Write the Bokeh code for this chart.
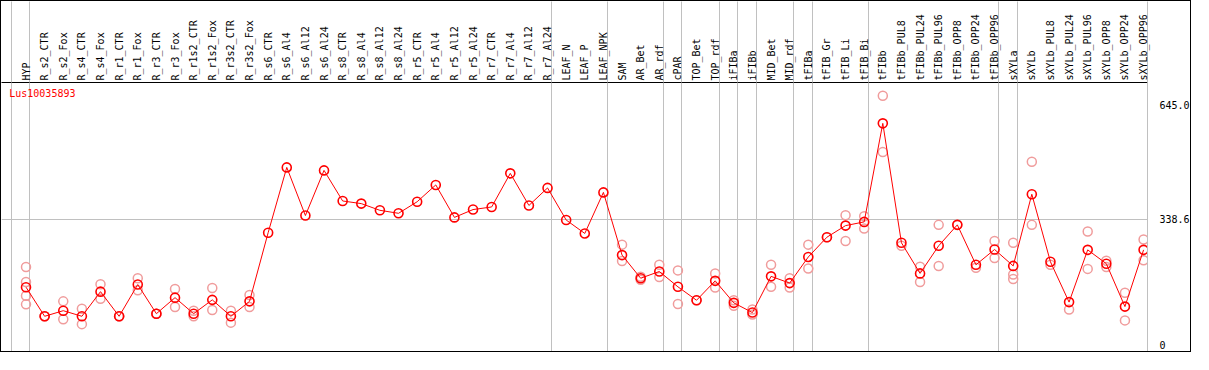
import math
from bokeh.plotting import figure
from bokeh.models import FixedTicker, Range1d, Label, ColumnDataSource
from bokeh.embed import file_html
from bokeh.resources import INLINE

gene = "Lus10035893"

categories = [
    "HYP", "R_s2_CTR", "R_s2_Fox", "R_s4_CTR", "R_s4_Fox", "R_r1_CTR", "R_r1_Fox",
    "R_r3_CTR", "R_r3_Fox", "R_r1s2_CTR", "R_r1s2_Fox", "R_r3s2_CTR", "R_r3s2_Fox",
    "R_s6_CTR", "R_s6_Al4", "R_s6_Al12", "R_s6_Al24", "R_s8_CTR", "R_s8_Al4",
    "R_s8_Al12", "R_s8_Al24", "R_r5_CTR", "R_r5_Al4", "R_r5_Al12", "R_r5_Al24",
    "R_r7_CTR", "R_r7_Al4", "R_r7_Al12", "R_r7_Al24", "LEAF_N", "LEAF_P", "LEAF_NPK",
    "SAM", "AR_Bet", "AR_rdf", "cPAR", "TOP_Bet", "TOP_rdf", "iFIBa", "iFIBb",
    "MID_Bet", "MID_rdf", "tFIBa", "tFIB_Gr", "tFIB_Li", "tFIB_Bi", "tFIBb",
    "tFIBb_PUL8", "tFIBb_PUL24", "tFIBb_PUL96", "tFIBb_OPP8", "tFIBb_OPP24",
    "tFIBb_OPP96", "sXYLa", "sXYLb", "sXYLb_PUL8", "sXYLb_PUL24", "sXYLb_PUL96",
    "sXYLb_OPP8", "sXYLb_OPP24", "sXYLb_OPP96",
]

means = [
    156, 78, 93, 78, 144, 78, 163, 85, 128, 85, 122, 78, 118,
    302, 477, 348, 469, 387, 380, 362, 354, 385, 430, 343, 364, 371, 461, 375, 422,
    336, 300, 410,
    242, 180, 198, 157, 121, 173, 114, 88, 185, 167,
    237, 290, 321, 331, 595, 275, 193, 267, 323, 216, 257,
    213, 405, 224, 116, 256, 219, 104, 256,
]

replicates = [
    [210, 170, 133, 110], [78, 78], [118, 70], [98, 57], [164, 125], [78, 78],
    [180, 148], [85, 85], [151, 103], [93, 78], [154, 95], [93, 61], [135, 103],
    [], [], [], [], [], [], [], [], [], [], [], [], [], [], [], [],
    [], [], [],
    [270, 226], [184, 176], [216, 183], [201, 111], [121], [193, 155], [121, 106],
    [96, 83], [216, 157], [180, 155],
    [270, 206], [290], [349, 280], [346, 313], [669, 518], [267], [211, 170],
    [323, 213], [323], [208], [280, 234],
    [275, 190, 178], [492, 323], [216], [96], [305, 205], [227, 210], [141, 67],
    [284, 228],
]

separators_after = [0, 1, 29, 32, 35, 36, 38, 39, 40, 42, 43, 46, 53, 54, 61]
y_ticks = [0, 338.6, 645.0]
y_tick_labels = ["0", "338.6", "645.0"]
ref_lines = [338.6]

GRAY = "#c0c0c0"
RED = "#ff0000"
PINK = "#f09c9c"
MONO = "DejaVu Sans Mono"
HEADER = 81

x = list(range(len(categories)))
sep_x = [n - 15 / 19 for n in separators_after]
rx, ry = [], []
for i, reps in enumerate(replicates):
    for r in reps:
        rx.append(i)
        ry.append(r)

p = figure(
    width=1191, height=352, output_backend="svg", toolbar_location=None,
    x_range=Range1d(-25 / 19, 1144 / 19), y_range=Range1d(-21.7, 704.5),
    x_axis_location="above", y_axis_location="right",
    min_border_left=0, min_border_right=37, min_border_top=HEADER, min_border_bottom=0,
)
p.outline_line_color = None
p.background_fill_color = "white"
p.border_fill_color = "white"
p.styles = {"border": "1px solid black"}

xa = p.xaxis[0]
xa.ticker = FixedTicker(ticks=x, minor_ticks=sep_x)
xa.major_label_overrides = {i: c for i, c in enumerate(categories)}
xa.major_label_orientation = math.pi / 2
xa.major_label_text_font = MONO
xa.major_label_text_font_size = "10px"
xa.major_label_text_color = "black"
xa.major_label_standoff = -(HEADER - 2)
xa.major_tick_line_color = None
xa.major_tick_out = 0
xa.major_tick_in = 0
xa.minor_tick_line_color = GRAY
xa.minor_tick_out = HEADER
xa.minor_tick_in = 0
xa.axis_line_color = "black"

ya = p.yaxis[0]
ya.ticker = FixedTicker(ticks=y_ticks)
ya.major_label_overrides = dict(zip(y_ticks, y_tick_labels))
ya.major_tick_line_color = None
ya.minor_tick_line_color = None
ya.axis_line_color = GRAY
ya.major_label_standoff = 6
ya.major_label_text_font = MONO
ya.major_label_text_font_size = "10px"
ya.major_label_text_color = "black"

p.xgrid.ticker = FixedTicker(ticks=sep_x)
p.xgrid.grid_line_color = GRAY
p.ygrid.ticker = FixedTicker(ticks=ref_lines)
p.ygrid.grid_line_color = GRAY

rep_src = ColumnDataSource(dict(x=rx, y=ry))
mean_src = ColumnDataSource(dict(x=x, y=means))

p.scatter("x", "y", source=rep_src, marker="circle", size=9, fill_color=None,
          line_color=PINK, line_width=1.5)
p.line("x", "y", source=mean_src, line_color=RED, line_width=1)
p.scatter("x", "y", source=mean_src, marker="circle", size=9, fill_color=None,
          line_color=RED, line_width=1.6)

p.add_layout(Label(x=-0.9, y=674, text=gene, text_color=RED, text_font=MONO,
                   text_font_size="10px", text_baseline="middle"))

open("out.html", "w").write(file_html(p, INLINE))
